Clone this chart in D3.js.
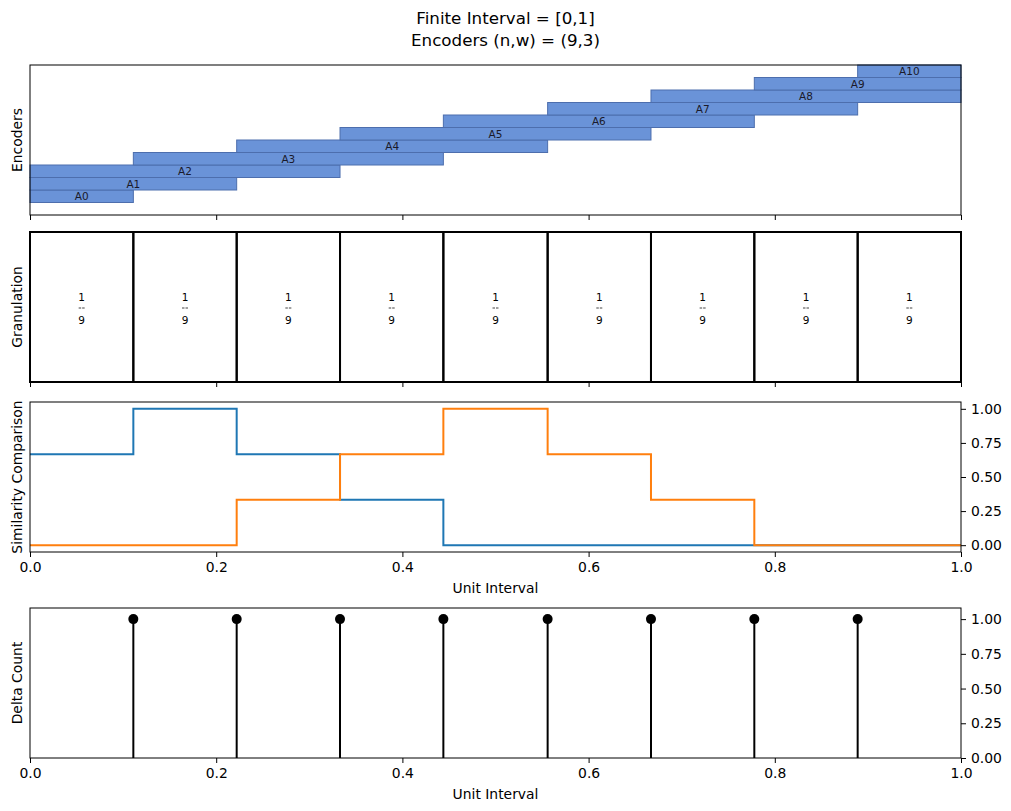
<!DOCTYPE html>
<html>
<head>
<meta charset="utf-8">
<script src="https://cdn.jsdelivr.net/npm/d3@7"></script>
<style>
  body { margin: 0; background: #fff; }
  text { font-family: "DejaVu Sans", sans-serif; fill: #000; }
  .axis text { font-size: 13.9px; }
  .axis path, .axis line { stroke: #000; stroke-width: 1; }
</style>
</head>
<body>
<div class="wrapper"></div>
<script>
// chart data
var encoderNames = ["A0", "A1", "A2", "A3", "A4", "A5", "A6", "A7", "A8", "A9", "A10"];
var encoderLo = [0, 0, 0, 0.111, 0.222, 0.333, 0.444, 0.556, 0.667, 0.778, 0.889];
var encoderHi = [0.111, 0.222, 0.333, 0.444, 0.556, 0.667, 0.778, 0.889, 1.0, 1.0, 1.0];
var granuleEdges = [0, 0.111, 0.222, 0.333, 0.444, 0.556, 0.667, 0.778, 0.889, 1.0];
var granuleLabels = ["1/9", "1/9", "1/9", "1/9", "1/9", "1/9", "1/9", "1/9", "1/9"];
var similarityA = [0.667, 1.0, 0.667, 0.333, 0, 0, 0, 0, 0];
var similarityB = [0, 0, 0.333, 0.667, 1.0, 0.667, 0.333, 0, 0];
var deltaPos = [0.111, 0.222, 0.333, 0.444, 0.556, 0.667, 0.778, 0.889];
var deltaCount = [1, 1, 1, 1, 1, 1, 1, 1];
var xTicks = [0, 0.2, 0.4, 0.6, 0.8, 1.0];
var yTicks = [0, 0.25, 0.5, 0.75, 1.0];

var W = 1011, H = 811;
var left = 30, right = 961;

var svg = d3.select(".wrapper")
  .append("svg")
    .attr("width", W)
    .attr("height", H);

var x = d3.scaleLinear().domain([0, 1]).range([left, right]);

// titles
svg.append("text").attr("x", 505.5).attr("y", 24).attr("text-anchor", "middle")
  .style("font-size", "16.7px").text("Finite Interval = [0,1]");
svg.append("text").attr("x", 505.5).attr("y", 46).attr("text-anchor", "middle")
  .style("font-size", "16.7px").text("Encoders (n,w) = (9,3)");

function yLabel(txt, cy) {
  svg.append("text")
    .attr("transform", "translate(22," + cy + ") rotate(-90)")
    .attr("text-anchor", "middle")
    .style("font-size", "13.9px")
    .text(txt);
}

function xAxis(y0, labels) {
  var ax = d3.axisBottom(x).tickValues(xTicks).tickSize(5).tickPadding(5)
    .tickFormat(labels ? d3.format(".1f") : "");
  var g = svg.append("g").attr("class", "axis")
    .attr("transform", "translate(0," + y0 + ")").call(ax);
  g.select(".domain").remove();
}

function frame(y0, y1, sw) {
  svg.append("rect").attr("x", left).attr("y", y0)
    .attr("width", right - left).attr("height", y1 - y0)
    .attr("fill", "none").attr("stroke", "#000").attr("stroke-width", sw || 1);
}

// ---------- panel 1: encoders ----------
var p1 = {top: 65, bottom: 215};
var yEnc = d3.scaleLinear().domain([-1, 11]).range([p1.bottom, p1.top]);

var enc = svg.append("g").selectAll("g")
  .data(encoderNames)
  .enter().append("g");

enc.append("rect")
  .attr("x", function(d, i) { return x(encoderLo[i]); })
  .attr("y", function(d, i) { return yEnc(i + 1); })
  .attr("width", function(d, i) { return x(encoderHi[i]) - x(encoderLo[i]); })
  .attr("height", function(d, i) { return yEnc(i) - yEnc(i + 1); })
  .attr("fill", "#6a93d8")
  .attr("stroke", "#4d6ead")
  .attr("stroke-width", 1);

enc.append("text")
  .attr("x", function(d, i) { return x((encoderLo[i] + encoderHi[i]) / 2); })
  .attr("y", function(d, i) { return yEnc(i + 0.5); })
  .attr("dy", "0.36em")
  .attr("text-anchor", "middle")
  .style("font-size", "10.5px")
  .style("fill", "#1a1a2a")
  .text(function(d) { return d; });

frame(p1.top, p1.bottom);
xAxis(p1.bottom, false);
yLabel("Encoders", (p1.top + p1.bottom) / 2);

// ---------- panel 2: granulation ----------
var p2 = {top: 232, bottom: 382};
var cells = svg.append("g").selectAll("g")
  .data(granuleLabels)
  .enter().append("g");

cells.append("rect")
  .attr("x", function(d, i) { return x(granuleEdges[i]); })
  .attr("y", p2.top)
  .attr("width", function(d, i) { return x(granuleEdges[i + 1]) - x(granuleEdges[i]); })
  .attr("height", p2.bottom - p2.top)
  .attr("fill", "none")
  .attr("stroke", "#000")
  .attr("stroke-width", 2);

var mid = (p2.top + p2.bottom) / 2;
function cellX(i) { return x((granuleEdges[i] + granuleEdges[i + 1]) / 2); }
cells.append("text")
  .attr("x", function(d, i) { return cellX(i); })
  .attr("y", mid - 6)
  .attr("text-anchor", "middle")
  .style("font-size", "10.5px")
  .text(function(d) { return d.split("/")[0]; });
cells.append("line")
  .attr("x1", function(d, i) { return cellX(i) - 3; })
  .attr("x2", function(d, i) { return cellX(i) + 3; })
  .attr("y1", mid + 1)
  .attr("y2", mid + 1)
  .attr("stroke", "#444")
  .attr("stroke-width", 1)
  .attr("stroke-dasharray", "2.5,1");
cells.append("text")
  .attr("x", function(d, i) { return cellX(i); })
  .attr("y", mid + 17)
  .attr("text-anchor", "middle")
  .style("font-size", "10.5px")
  .text(function(d) { return d.split("/")[1]; });

xAxis(p2.bottom, false);
yLabel("Granulation", mid);

// ---------- panel 3: similarity ----------
var p3 = {top: 402, bottom: 552};
var ySim = d3.scaleLinear().domain([-0.05, 1.05]).range([p3.bottom, p3.top]);

function stepPoints(vals) {
  var pts = vals.map(function(v, i) { return [granuleEdges[i], v]; });
  pts.push([granuleEdges[granuleEdges.length - 1], vals[vals.length - 1]]);
  return pts;
}
var stepLine = d3.line()
  .x(function(d) { return x(d[0]); })
  .y(function(d) { return ySim(d[1]); })
  .curve(d3.curveStepAfter);

svg.append("path").datum(stepPoints(similarityA))
  .attr("d", stepLine).attr("fill", "none")
  .attr("stroke", "#1f77b4").attr("stroke-width", 2);
svg.append("path").datum(stepPoints(similarityB))
  .attr("d", stepLine).attr("fill", "none")
  .attr("stroke", "#ff7f0e").attr("stroke-width", 2);

frame(p3.top, p3.bottom);
xAxis(p3.bottom, true);
var gy3 = svg.append("g").attr("class", "axis")
  .attr("transform", "translate(" + right + ",0)")
  .call(d3.axisRight(ySim).tickValues(yTicks).tickSize(5).tickPadding(5).tickFormat(d3.format(".2f")));
gy3.select(".domain").remove();
svg.append("text").attr("x", (left + right) / 2).attr("y", 593)
  .attr("text-anchor", "middle").style("font-size", "13.9px").text("Unit Interval");
yLabel("Similarity Comparison", (p3.top + p3.bottom) / 2);

// ---------- panel 4: delta count ----------
var p4 = {top: 608, bottom: 758};
var yDel = d3.scaleLinear().domain([0, 1.08]).range([p4.bottom, p4.top]);

var stems = svg.append("g").selectAll("g")
  .data(deltaPos)
  .enter().append("g");
stems.append("line")
  .attr("x1", function(d) { return x(d); })
  .attr("x2", function(d) { return x(d); })
  .attr("y1", yDel(0))
  .attr("y2", function(d, i) { return yDel(deltaCount[i]); })
  .attr("stroke", "#000").attr("stroke-width", 2);
stems.append("circle")
  .attr("cx", function(d) { return x(d); })
  .attr("cy", function(d, i) { return yDel(deltaCount[i]); })
  .attr("r", 5)
  .attr("fill", "#000");

frame(p4.top, p4.bottom);
xAxis(p4.bottom, true);
var gy4 = svg.append("g").attr("class", "axis")
  .attr("transform", "translate(" + right + ",0)")
  .call(d3.axisRight(yDel).tickValues(yTicks).tickSize(5).tickPadding(5).tickFormat(d3.format(".2f")));
gy4.select(".domain").remove();
svg.append("text").attr("x", (left + right) / 2).attr("y", 799)
  .attr("text-anchor", "middle").style("font-size", "13.9px").text("Unit Interval");
yLabel("Delta Count", (p4.top + p4.bottom) / 2);
</script>
</body>
</html>
